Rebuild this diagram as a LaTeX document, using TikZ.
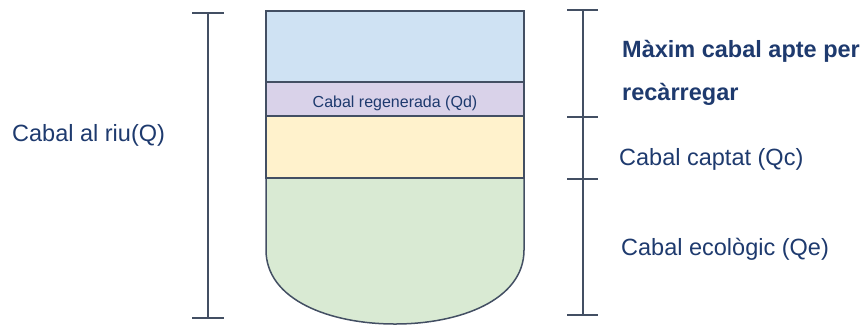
\documentclass[tikz,border=0pt]{standalone}
\usepackage{fontspec}
\setmainfont{Liberation Sans}
\usetikzlibrary{positioning}
\definecolor{tinta}{HTML}{1E3A6E}
\definecolor{vora}{HTML}{434F63}
\definecolor{blau}{HTML}{CFE2F3}
\definecolor{lila}{HTML}{D9D2E9}
\definecolor{groc}{HTML}{FFF2CC}
\definecolor{verd}{HTML}{D9EAD3}
\tikzset{
  capa/.style={draw=vora, line width=1.5pt},
  cota/.style={draw=vora, line width=1.5pt},
  etiq/.style={text=tinta, anchor=base west, inner sep=0pt, font=\fontsize{23.5}{28}\selectfont},
}

\begin{document}
\begin{tikzpicture}[x=1pt, y=-1pt]
      \useasboundingbox (0, 0) rectangle (866, 325);
      % capes del recipient
      \draw [capa, fill=verd] (266, 178) -- (524, 178) -- (524, 250) .. controls (524, 300) and (460, 324) .. (395, 324) .. controls (330, 324) and (266, 300) .. (266, 250) -- cycle;
      \draw [capa, fill=groc] (266, 116) rectangle (524, 178);
      \draw [capa, fill=lila] (266, 82) rectangle (524, 116);
      \draw [capa, fill=blau] (266, 11) rectangle (524, 82);
      \node [text=tinta, anchor=base, inner sep=0pt, font=\fontsize{16}{19}\selectfont] (regen) at (395, 107) {Cabal regenerada (Qd)};

      % cota de l'esquerra
      \coordinate (qdalt) at (208, 13);
      \coordinate (qbaix) at (208, 318);
      \draw [cota] (qdalt) -- (qbaix);
      \draw [cota] ([xshift=-16pt]qdalt) -- ([xshift=16pt]qdalt);
      \draw [cota] ([xshift=-16pt]qbaix) -- ([xshift=16pt]qbaix);
      \node [etiq] (riu) at (12, 141.5) {Cabal al riu(Q)};

      % cota de la dreta
      \coordinate (d0) at (583, 10);
      \coordinate (d1) at (583, 117);
      \coordinate (d2) at (583, 179);
      \coordinate (d3) at (583, 315);
      \draw [cota] (d0) -- (d3);
      \foreach \c in {d0, d1, d2, d3}
        \draw [cota] ([xshift=-16pt]\c) -- ([xshift=15pt]\c);

      \node [etiq, font=\fontsize{23.5}{28}\selectfont\bfseries] (maxim) at (622, 57) {Màxim cabal apte per};
      \node [etiq, font=\fontsize{23.5}{28}\selectfont\bfseries] (recarregar) at (622, 100) {recàrregar};
      \node [etiq] (captat) at (619, 165) {Cabal captat (Qc)};
      \node [etiq] (ecologic) at (621, 255) {Cabal ecològic (Qe)};
    \end{tikzpicture}
\end{document}
